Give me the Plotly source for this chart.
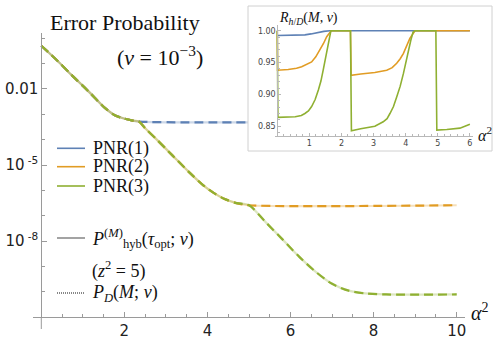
import plotly.graph_objects as go

W, H = 498, 341

COLOR_PNR1 = "#5E81B5"
COLOR_PNR2 = "#E19C24"
COLOR_PNR3 = "#8FB032"
SERIF = "Liberation Serif, Times New Roman, serif"
SANS = "DejaVu Sans, sans-serif"

# main panel: error probability vs alpha^2 (log y)
alpha_pnr1 = [0, 0.4, 0.72, 1.13, 1.53, 1.77, 2.01, 2.2, 2.35, 10]
p_pnr1 = [5.01e-1, 1.23e-1, 3.63e-2, 8.13e-3, 1.78e-3, 9.12e-4, 6.61e-4,
          5.62e-4, 5.13e-4, 5.13e-4]

alpha_pnr2 = [0, 0.4, 0.72, 1.13, 1.53, 1.77, 2.01, 2.2, 2.35, 2.5, 2.75,
              3.15, 3.55, 3.9, 4.15, 4.4, 4.7, 5.0, 10]
p_pnr2 = [5.01e-1, 1.23e-1, 3.63e-2, 8.13e-3, 1.78e-3, 9.12e-4, 6.61e-4,
          5.62e-4, 5.13e-4, 2.82e-4, 1.12e-4, 2.45e-5, 5.37e-6, 1.58e-6,
          7.94e-7, 4.68e-7, 3.16e-7, 2.6e-7, 2.6e-7]

alpha_pnr3 = [0, 0.4, 0.72, 1.13, 1.53, 1.77, 2.01, 2.2, 2.35, 2.5, 2.75,
              3.15, 3.55, 3.9, 4.15, 4.4, 4.7, 5.0, 5.4, 5.8, 6.2, 6.6,
              7.0, 7.4, 7.8, 8.3, 10]
p_pnr3 = [5.01e-1, 1.23e-1, 3.63e-2, 8.13e-3, 1.78e-3, 9.12e-4, 6.61e-4,
          5.62e-4, 5.13e-4, 2.82e-4, 1.12e-4, 2.45e-5, 5.37e-6, 1.58e-6,
          7.94e-7, 4.68e-7, 3.16e-7, 2.6e-7, 5.62e-8, 1.20e-8, 2.51e-9,
          6.31e-10, 2.09e-10, 1.12e-10, 8.71e-11, 7.94e-11, 7.94e-11]

y_tickvals = [1e-2, 1e-5, 1e-8]
y_ticktext = ["0.01", "10<sup> -5</sup>", "10<sup> -8</sup>"]
y_minorvals = [1, 1e-1, 1e-3, 1e-4, 1e-6, 1e-7, 1e-9, 1e-10, 1e-11]
x_tickvals = [2, 4, 6, 8, 10]

# inset: ratio R_{h/D}
ins_x1 = [0, 0.3, 0.6, 0.86, 1.05, 1.28, 1.45, 1.64, 6.0]
ins_r1 = [0.9925, 0.9925, 0.993, 0.9935, 0.995, 0.9975, 0.999, 1.0, 1.0]

ins_x2 = [0, 0.01, 0.34, 0.6, 0.76, 0.92, 1.07, 1.2, 1.33, 1.44, 1.54, 1.68,
          2.28, 2.30, 2.6, 3.04, 3.41, 3.58, 3.72, 3.83, 3.93, 4.03, 4.13,
          4.29, 6.0]
ins_r2 = [1.0, 0.938, 0.939, 0.941, 0.9435, 0.947, 0.951, 0.959, 0.970,
          0.980, 0.9906, 1.0, 1.0, 0.930, 0.932, 0.9345, 0.938, 0.942,
          0.949, 0.956, 0.9645, 0.975, 0.988, 1.0, 1.0]

ins_x3 = [0, 0.02, 0.56, 0.75, 0.86, 0.97, 1.07, 1.18, 1.28, 1.36, 1.43,
          1.51, 1.59, 1.67, 2.28, 2.31, 2.6, 3.04, 3.30, 3.42, 3.51, 3.62,
          3.72, 3.83, 3.93, 4.01, 4.08, 4.16, 4.23, 4.29, 4.94, 4.97, 5.28,
          5.69, 6.0]
ins_r3 = [1.0, 0.864, 0.865, 0.867, 0.870, 0.874, 0.881, 0.892, 0.907,
          0.921, 0.938, 0.958, 0.980, 1.0, 1.0, 0.843, 0.846, 0.850, 0.857,
          0.862, 0.870, 0.881, 0.896, 0.913, 0.933, 0.951, 0.970, 0.985,
          0.998, 1.0, 1.0, 0.844, 0.845, 0.847, 0.853]
ins_yticks = [0.85, 0.90, 0.95, 1.00]


def px(x):
    return x / W


def py(y):
    return (H - y) / H


fig = go.Figure()

series = [
    ("PNR(1)", alpha_pnr1, p_pnr1, ins_x1, ins_r1, COLOR_PNR1),
    ("PNR(2)", alpha_pnr2, p_pnr2, ins_x2, ins_r2, COLOR_PNR2),
    ("PNR(3)", alpha_pnr3, p_pnr3, ins_x3, ins_r3, COLOR_PNR3),
]

# hybrid (light solid) under direct (dashed)
for name, ax, pv, _, _, col in series:
    fig.add_trace(go.Scatter(
        x=ax, y=pv, mode="lines", xaxis="x", yaxis="y", showlegend=False,
        line=dict(color=col, width=2.2, shape="spline", smoothing=0.8),
        opacity=0.3, name=name,
    ))
for name, ax, pv, _, _, col in series:
    fig.add_trace(go.Scatter(
        x=ax, y=pv, mode="lines", xaxis="x", yaxis="y", showlegend=False,
        line=dict(color=col, width=2.2, dash="9px,5px", shape="spline",
                  smoothing=0.8),
        name=name,
    ))

# white panel behind the inset (separate subplot so it sits above main traces)
fig.add_trace(go.Scatter(
    x=[0, 1, 1, 0, 0], y=[0, 0, 1, 1, 0], mode="lines", fill="toself",
    fillcolor="white", line=dict(width=0), xaxis="x2", yaxis="y2",
    showlegend=False, hoverinfo="skip",
))

for name, _, _, ix, ir, col in series:
    fig.add_trace(go.Scatter(
        x=ix, y=ir, mode="lines", xaxis="x3", yaxis="y3", showlegend=False,
        line=dict(color=col, width=1.6), name=name,
    ))

AX_MAIN = "#9a9a9a"
AX_INS = "#b8b8b8"

# main axes: plot area x 33..465 px, y 33..317.3 px
fig.update_layout(
    width=W, height=H,
    margin=dict(l=0, r=0, t=0, b=0),
    paper_bgcolor="white", plot_bgcolor="white",
    template="none",
    showlegend=False,
    xaxis=dict(
        domain=[px(33), px(465)], range=[-0.2, 10.2], anchor="y",
        showline=True, linecolor=AX_MAIN, linewidth=1,
        showgrid=False, zeroline=False,
        tickvals=x_tickvals, ticks="inside", ticklen=5, tickcolor=AX_MAIN,
        tickfont=dict(family=SANS, size=15, color="#222"),
        minor=dict(dtick=0.5, tick0=0, ticks="inside", ticklen=3,
                   tickcolor=AX_MAIN, showgrid=False),
        automargin=False,
    ),
    yaxis=dict(
        domain=[py(317.3), py(33)], type="log", range=[-11, 0.2],
        anchor="free", position=px(41.3),
        showline=True, linecolor=AX_MAIN, linewidth=1,
        showgrid=False, zeroline=False,
        tickvals=y_tickvals, ticktext=y_ticktext,
        ticks="inside", ticklen=5, tickcolor=AX_MAIN,
        tickfont=dict(family=SANS, size=15, color="#222"),
        minor=dict(tickvals=y_minorvals, ticks="inside", ticklen=3,
                   tickcolor=AX_MAIN, showgrid=False),
        automargin=False,
    ),
    xaxis2=dict(domain=[px(248), px(492)], range=[0, 1], visible=False,
                anchor="y2", fixedrange=True),
    yaxis2=dict(domain=[py(151), py(6)], range=[0, 1], visible=False,
                anchor="x2", fixedrange=True),
    xaxis3=dict(
        domain=[px(274.7), px(473.1)], range=[-0.08, 6.1], anchor="y3",
        showline=True, linecolor=AX_INS, linewidth=1,
        showgrid=False, zeroline=False,
        tickvals=[1, 2, 3, 4, 5, 6],
        ticks="inside", ticklen=3, tickcolor=AX_INS,
        tickfont=dict(family=SANS, size=8, color="#444"),
        minor=dict(dtick=0.2, tick0=0, ticks="inside", ticklen=2,
                   tickcolor=AX_INS, showgrid=False),
        automargin=False,
    ),
    yaxis3=dict(
        domain=[py(135.8), py(25)], range=[0.835, 1.009],
        anchor="free", position=px(277.3),
        showline=True, linecolor=AX_INS, linewidth=1,
        showgrid=False, zeroline=False,
        tickvals=ins_yticks, tickformat=".2f",
        ticks="inside", ticklen=3, tickcolor=AX_INS,
        tickfont=dict(family=SANS, size=8, color="#444"),
        minor=dict(dtick=0.01, tick0=0.85, ticks="inside", ticklen=2,
                   tickcolor=AX_INS, showgrid=False),
        automargin=False,
    ),
)

shapes = [
    # inset frame
    dict(type="rect", xref="paper", yref="paper", x0=px(248), x1=px(492),
         y0=py(151), y1=py(6), line=dict(color="#d0d0d0", width=1),
         layer="above"),
    # y axis continues a little below the x axis
    dict(type="line", xref="paper", yref="paper", x0=px(41.3), x1=px(41.3),
         y0=py(329), y1=py(317.3), line=dict(color=AX_MAIN, width=1)),
]


def label(x, y, text, size, anchor="left"):
    return dict(x=px(x), y=py(y), xref="paper", yref="paper", text=text,
                showarrow=False, xanchor=anchor, yanchor="middle",
                font=dict(family=SERIF, size=size, color="#111"))


# hand-made legend
leg_rows = [(148.3, COLOR_PNR1, "PNR(1)"), (166.7, COLOR_PNR2, "PNR(2)"),
            (186.0, COLOR_PNR3, "PNR(3)")]
annotations = []
for yy, col, txt in leg_rows:
    shapes.append(dict(type="line", xref="paper", yref="paper",
                       x0=px(57), x1=px(85), y0=py(yy), y1=py(yy),
                       line=dict(color=col, width=1.6)))
    annotations.append(label(91, yy, txt, 18))

shapes.append(dict(type="line", xref="paper", yref="paper", x0=px(57),
                   x1=px(85), y0=py(238), y1=py(238),
                   line=dict(color="#666", width=1.2)))
shapes.append(dict(type="line", xref="paper", yref="paper", x0=px(57),
                   x1=px(85), y0=py(293), y1=py(293),
                   line=dict(color="#111", width=1.2, dash="1px,1px")))

annotations += [
    label(90, 238, "<i>P</i><sup>(<i>M</i>)</sup><sub>hyb</sub>"
                   "(<i>τ</i><sub>opt</sub>; <i>ν</i>)", 18),
    label(90, 270, "(<i>z</i><sup>2</sup> = 5)", 18),
    label(90, 293, "<i>P</i><sub><i>D</i></sub>(<i>M</i>; <i>ν</i>)", 18),
    label(125, 22, "Error Probability", 22, "center"),
    label(205, 56, "(<i>ν</i> = 10<sup>−3</sup>)", 22, "right"),
    label(469, 312, "<i>α</i><sup>2</sup>", 20),
    label(476, 134, "<i>α</i><sup>2</sup>", 16),
    label(277, 19, "<i>R</i><sub><i>h</i>/<i>D</i></sub>(<i>M</i>, <i>ν</i>)", 14),
]

fig.update_layout(shapes=shapes, annotations=annotations)

fig.write_html("out.html", config={"displayModeBar": False},
               post_script="document.body.style.margin='0px';")
